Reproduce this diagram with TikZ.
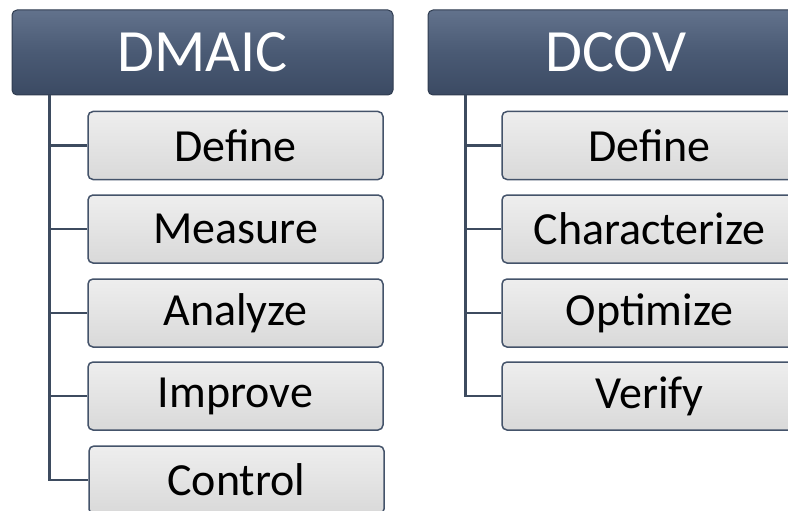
\documentclass[tikz,border=0pt]{standalone}
\usepackage{fontspec}
\setmainfont{Carlito}
\definecolor{hdtop}{HTML}{62728C}
\definecolor{hdbot}{HTML}{3B4A63}
\definecolor{hdmid}{HTML}{4A5A74}
\definecolor{hdedge}{HTML}{2F3C50}
\definecolor{bxtop}{HTML}{EEEEEE}
\definecolor{bxbot}{HTML}{D9D9D9}
\definecolor{bxedge}{HTML}{44536A}
\definecolor{lncol}{HTML}{3D4B5F}
\tikzset{
  header/.style={draw=hdedge, line width=1pt, rounded corners=5pt,
    top color=hdtop, bottom color=hdbot, middle color=hdmid,
    minimum width=#1, minimum height=85pt, inner sep=0pt,
    text=white, font=\fontsize{60}{60}\selectfont},
  child/.style={draw=bxedge, line width=1.5pt, rounded corners=5pt,
    top color=bxtop, bottom color=bxbot,
    minimum width=295pt, minimum height=68pt, inner sep=0pt,
    text=black, font=\fontsize{46}{46}\selectfont},
  trunk/.style={draw=lncol, line width=2.5pt}
}
\begin{document}
\begin{tikzpicture}[x=1pt,y=-1pt]
\useasboundingbox (0,0) rectangle (788,511);
\clip (0,0) rectangle (788,511);
% DMAIC column
\node[header=381pt] (h1) at (202.5,52.5) {DMAIC};
\node[child] (a1) at (235.5,145.5) {Define};
\node[child] (a2) at (235.5,229) {Measure};
\node[child] (a3) at (235.5,313) {Analyze};
\node[child] (a4) at (235.5,396) {Improve};
\node[child] (a5) at (236.5,480) {Control};
\coordinate (t1) at ([xshift=38pt]h1.south west);
\draw[trunk] (t1) |- (a5.west);
\foreach \n in {a1,a2,a3,a4}{\draw[trunk] (\n.west) -- (\n.west -| t1);}
% DCOV column
\node[header=376pt] (h2) at (616,52.5) {DCOV};
\node[child] (b1) at (649.5,145.5) {Define};
\node[child] (b2) at (649.5,229) {Characterize};
\node[child] (b3) at (649.5,313) {Optimize};
\node[child] (b4) at (649.5,396) {Verify};
\coordinate (t2) at ([xshift=38pt]h2.south west);
\draw[trunk] (t2) |- (b4.west);
\foreach \n in {b1,b2,b3}{\draw[trunk] (\n.west) -- (\n.west -| t2);}
\end{tikzpicture}
\end{document}
